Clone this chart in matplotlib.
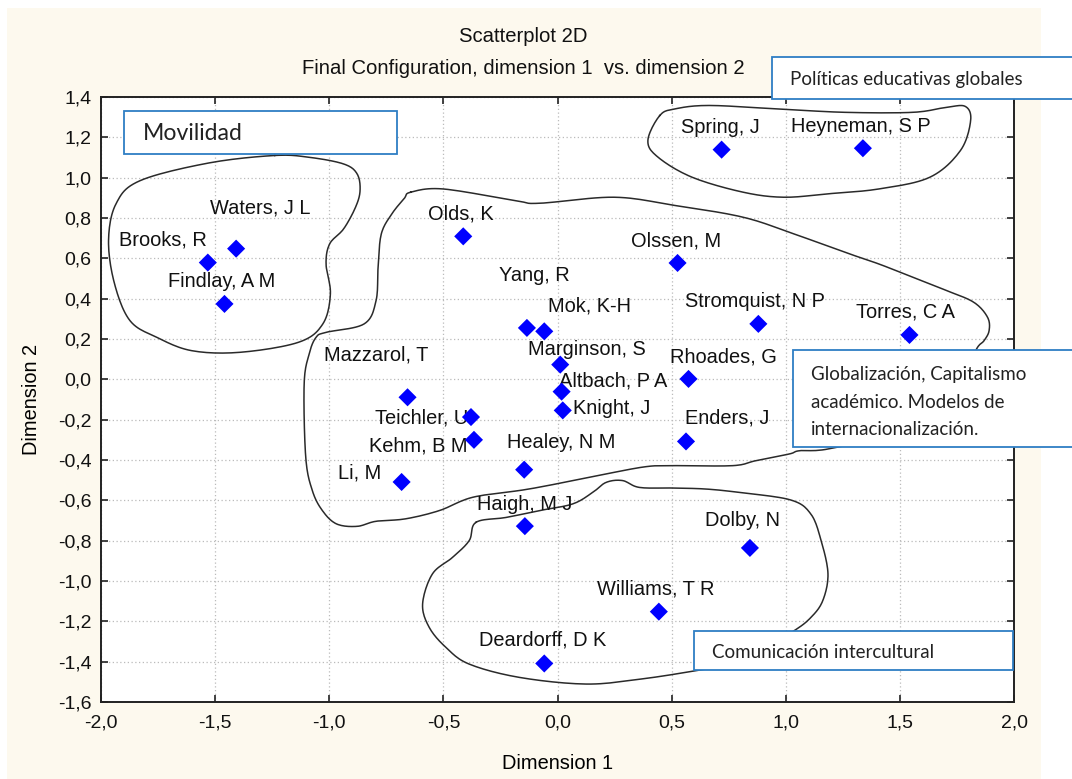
import numpy as np
import matplotlib.pyplot as plt
from matplotlib.patches import Rectangle
from matplotlib.ticker import FuncFormatter, MultipleLocator

# --- data ---
names = ['Brooks, R', 'Waters, J L', 'Findlay, A M', 'Olds, K', 'Yang, R', 'Mok, K-H',
         'Marginson, S', 'Altbach, P A', 'Knight, J', 'Mazzarol, T', 'Teichler, U',
         'Kehm, B M', 'Li, M', 'Healey, N M', 'Haigh, M J', 'Deardorff, D K',
         'Olssen, M', 'Spring, J', 'Heyneman, S P', 'Stromquist, N P', 'Torres, C A',
         'Rhoades, G', 'Enders, J', 'Dolby, N', 'Williams, T R']
dim1 = [-1.532, -1.408, -1.459, -0.413, -0.134, -0.058, 0.012, 0.018, 0.023, -0.657,
        -0.379, -0.366, -0.683, -0.146, -0.143, -0.058, 0.526, 0.719, 1.338, 0.880,
        1.542, 0.574, 0.563, 0.843, 0.444]
dim2 = [0.579, 0.648, 0.374, 0.709, 0.255, 0.238, 0.073, -0.061, -0.154, -0.089,
        -0.187, -0.300, -0.509, -0.448, -0.728, -1.409, 0.577, 1.139, 1.146, 0.275,
        0.220, 0.002, -0.308, -0.836, -1.152]

# label offsets from each point, in pixels (left edge, vertical centre)
label_dx = [-89, -26, -56, -35, -28, 4, -32, -3, 10, -84, -96, -105, -64, -17, -48,
            -65, -47, -41, -72, -73, -53, -19, -1, -45, -62]
label_dy = [23, 41, 22, 22, 52, 25, 15, 11, 2, 42, -1, -6, 9, 27, 22, 23, 22, 22,
            22, 22, 23, 22, 23, 27, 23]

# hand-drawn group outlines (dimension 1, dimension 2)
movilidad_x = [-1.239, -1.527, -1.829, -1.934, -1.967, -1.941, -1.873, -1.755, -1.602,
               -1.391, -1.134, -1.028, -0.995, -1.014, -0.998, -0.937, -0.885, -0.865,
               -0.878, -0.937, -1.088]
movilidad_y = [1.110, 1.073, 0.985, 0.871, 0.688, 0.475, 0.291, 0.208, 0.142, 0.134,
               0.184, 0.275, 0.424, 0.572, 0.672, 0.746, 0.853, 0.936, 1.019, 1.068,
               1.101]
politicas_x = [0.448, 0.396, 0.441, 0.590, 0.813, 0.991, 1.185, 1.408, 1.631, 1.765,
               1.810, 1.787, 1.705, 1.557, 1.259, 0.961, 0.664, 0.515]
politicas_y = [1.308, 1.184, 1.101, 1.002, 0.928, 0.903, 0.920, 0.944, 1.002, 1.134,
               1.283, 1.353, 1.349, 1.324, 1.324, 1.341, 1.358, 1.341]
global_x = [-0.643, -0.501, -0.183, -0.080, 0.248, 0.515, 0.813, 1.036, 1.259, 1.408,
            1.557, 1.705, 1.824, 1.884, 1.891, 1.869, 1.832, 1.761, 1.498, 1.192,
            1.060, 1.016, 0.870, 0.768, 0.505, 0.388, 0.213, -0.007, -0.153, -0.372,
            -0.518, -0.667, -0.796, -0.878, -0.968, -1.030, -1.074, -1.103, -1.110,
            -1.088, -1.058, -1.014, -0.847, -0.795, -0.786, -0.772, -0.726, -0.672]
global_y = [0.928, 0.944, 0.886, 0.873, 0.903, 0.862, 0.804, 0.721, 0.630, 0.572,
            0.506, 0.440, 0.382, 0.308, 0.242, 0.192, 0.142, -0.056, -0.254, -0.344,
            -0.354, -0.370, -0.403, -0.428, -0.428, -0.433, -0.469, -0.519, -0.549,
            -0.585, -0.651, -0.692, -0.704, -0.729, -0.717, -0.651, -0.552, -0.387,
            -0.023, 0.126, 0.208, 0.233, 0.275, 0.390, 0.556, 0.721, 0.820, 0.896]
comunic_x = [-0.357, -0.226, -0.080, 0.066, 0.154, 0.213, 0.285, 0.359, 0.505, 0.651,
             0.797, 1.021, 1.110, 1.155, 1.185, 1.162, 1.110, 1.036, 0.885, 0.709,
             0.604, 0.367, 0.125, -0.167, -0.387, -0.489, -0.562, -0.591, -0.548,
             -0.460, -0.387]
comunic_y = [-0.709, -0.685, -0.651, -0.618, -0.561, -0.511, -0.502, -0.536, -0.539,
             -0.544, -0.561, -0.598, -0.668, -0.800, -0.965, -1.098, -1.181, -1.247,
             -1.346, -1.420, -1.445, -1.486, -1.511, -1.478, -1.412, -1.329, -1.230,
             -1.114, -0.965, -0.883, -0.800]

W, H = 1072, 779
SANS = 'Liberation Sans'
BOXFONT = 'Lato'


def closed_spline(xs, ys, n=12):
    # periodic Catmull-Rom through the traced points
    p = np.column_stack([xs, ys])
    m = len(p)
    t = np.linspace(0, 1, n, endpoint=False)[:, None]
    out = []
    for i in range(m):
        p0, p1, p2, p3 = p[i - 1], p[i], p[(i + 1) % m], p[(i + 2) % m]
        out.append(0.5 * ((2 * p1) + (-p0 + p2) * t + (2 * p0 - 5 * p1 + 4 * p2 - p3) * t**2
                          + (-p0 + 3 * p1 - 3 * p2 + p3) * t**3))
    out = np.vstack(out + [p[:1]])
    return out[:, 0], out[:, 1]


def fx(px):
    return px / W


def fy(py):
    return 1 - py / H


fig = plt.figure(figsize=(W / 100, H / 100), dpi=100)
fig.patch.set_facecolor('white')
fig.add_artist(Rectangle((fx(7), 0), fx(1041) - fx(7), fy(8), transform=fig.transFigure,
                         facecolor='#FDF9EE', edgecolor='none', zorder=-5))

ax = fig.add_axes([fx(101), fy(702), fx(1014) - fx(101), fy(97) - fy(702)])
ax.set_facecolor('white')
ax.set_xlim(-2, 2)
ax.set_ylim(-1.6, 1.4)
ax.xaxis.set_major_locator(MultipleLocator(0.5))
ax.yaxis.set_major_locator(MultipleLocator(0.2))
comma = FuncFormatter(lambda v, pos: f'{v:.1f}'.replace('.', ','))
ax.xaxis.set_major_formatter(comma)
ax.yaxis.set_major_formatter(comma)
ax.tick_params(direction='in', length=5, width=1.2, color='#222222', top=True, right=True,
               labelsize=14, labelcolor='#111111')
ax.tick_params(axis='x', pad=9)
ax.tick_params(axis='y', pad=7)
for lab in ax.get_xticklabels() + ax.get_yticklabels():
    lab.set_fontfamily(SANS)
for s in ax.spines.values():
    s.set_linewidth(1.4)
    s.set_color('#222222')
ax.grid(True, color='#BBBBBB', linestyle=(0, (1, 2)), linewidth=0.9)
ax.set_axisbelow(True)

for xs, ys in [(movilidad_x, movilidad_y), (politicas_x, politicas_y),
               (global_x, global_y), (comunic_x, comunic_y)]:
    cx, cy = closed_spline(xs, ys)
    ax.plot(cx, cy, color='#2a2a2a', linewidth=1.1, zorder=2)

ax.scatter(dim1, dim2, marker='D', s=85, color='#0000FF', edgecolors='none', zorder=4)
for name, x, y, dx, dy in zip(names, dim1, dim2, label_dx, label_dy):
    ax.annotate(name, (x, y), xytext=(dx, dy), textcoords='offset pixels',
                ha='left', va='center', fontsize=14.4, fontfamily=SANS, color='#111111',
                zorder=3)

ax.set_xlabel('Dimension 1', fontsize=14.4, fontfamily=SANS, labelpad=16)
ax.set_ylabel('Dimension 2', fontsize=14.4, fontfamily=SANS, labelpad=12)

fig.text(fx(523), fy(37), 'Scatterplot 2D', ha='center', va='center', fontsize=14.6,
         fontfamily=SANS, color='#111111')
fig.text(fx(523), fy(68), 'Final Configuration, dimension 1  vs. dimension 2', ha='center',
         va='center', fontsize=14.6, fontfamily=SANS, color='#111111')

# annotation boxes (pixel boxes: left, top, right, bottom)
boxes = [((124, 111, 397, 154), 'Movilidad', 16.6, (143, 133)),
         ((772, 57, 1085, 99), 'Políticas educativas globales', 13.5, (790, 79)),
         ((793, 350, 1085, 447), 'Globalización, Capitalismo\nacadémico. Modelos de\n'
          'internacionalización.', 13.5, (811, 402)),
         ((694, 631, 1013, 670), 'Comunicación intercultural', 13.5, (712, 653))]
for (l, t, r, b), txt, fs, (tx, ty) in boxes:
    fig.add_artist(Rectangle((fx(l), fy(b)), fx(r) - fx(l), fy(t) - fy(b),
                             transform=fig.transFigure, facecolor='white',
                             edgecolor='#2E7EC4', linewidth=1.3, zorder=5))
    fig.text(fx(tx), fy(ty), txt, ha='left', va='center', fontsize=fs,
             fontfamily=BOXFONT, color='#222222', linespacing=1.77, zorder=6)

fig.savefig('out.png', dpi=100)
